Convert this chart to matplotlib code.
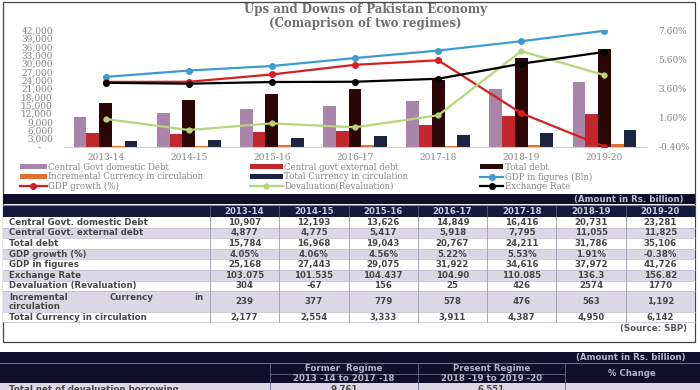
import numpy as np
import matplotlib
matplotlib.use('Agg')
import matplotlib.pyplot as plt
from matplotlib.patches import Rectangle

# data from the SBP table
years = ['2013-14', '2014-15', '2015-16', '2016-17', '2017-18', '2018-19', '2019-20']
domestic_debt = [10907, 12193, 13626, 14849, 16416, 20731, 23281]
external_debt = [4877, 4775, 5417, 5918, 7795, 11055, 11825]
total_debt = [15784, 16968, 19043, 20767, 24211, 31786, 35106]
gdp_growth = [4.05, 4.06, 4.56, 5.22, 5.53, 1.91, -0.38]
gdp_figures = [25168, 27443, 29075, 31922, 34616, 37972, 41726]
exchange_txt = ['103.075', '101.535', '104.437', '104.90', '110.085', '136.3', '156.82']
exchange_rate = [float(s) for s in exchange_txt]
devaluation = [304, -67, 156, 25, 426, 2574, 1770]
incr_currency = [239, 377, 779, 578, 476, 563, 1192]
total_currency = [2177, 2554, 3333, 3911, 4387, 4950, 6142]

regime_names = ['Former  Regime', 'Present Regime']
regime_years = ['2013 -14 to 2017 -18', '2018 -19 to 2019 -20']
net_borrowing = ['9,761', '6,551']

plt.rcParams['font.family'] = 'DejaVu Serif'
W, H = 700, 390
GRAY = '#858585'
NAVY = '#110e2c'
LAV = '#dcd7e6'

fig = plt.figure(figsize=(7, 3.9), dpi=100)
bg = fig.add_axes([0, 0, 1, 1])
bg.set_xlim(0, W)
bg.set_ylim(H, 0)
bg.axis('off')

# ---- chart ----
ax = fig.add_axes([64 / W, 1 - 147 / H, 582 / W, 117 / H])
x = np.arange(len(years))
bw = 0.153
bar_series = [('Central Govt domestic Debt', domestic_debt, '#a985a9'),
              ('Central govt external debt', external_debt, '#c1272d'),
              ('Total debt', total_debt, '#2a0606'),
              ('Incremental Currency in circulation', incr_currency, '#e2702c'),
              ('Total Currency in circulation', total_currency, '#1d2442')]
handles = {}
for k, (name, vals, c) in enumerate(bar_series):
    handles[name] = ax.bar(x + (k - 2) * bw, vals, bw, color=c, label=name)

ln, = ax.plot(x, gdp_figures, color='#3d9bd3', lw=1.6, marker='o', ms=4)
handles['GDP in figures (Bln)'] = ln
ax.set_xlim(-0.5, 6.5)
ax.set_ylim(0, 42000)
ticks = np.arange(0, 42001, 3000)
ax.set_yticks(ticks)
ax.set_yticklabels(['-    ' if t == 0 else f'{t:,}' for t in ticks])
ax.set_xticks(x)
ax.set_xticklabels(years)
ax.tick_params(length=0, labelsize=6.5, labelcolor=GRAY)
ax.tick_params(axis='y', pad=8)
ax.tick_params(axis='x', pad=4)
for s in ax.spines.values():
    s.set_visible(False)
ax.spines['bottom'].set_visible(True)
ax.spines['bottom'].set_color('#cfcfcf')

ax2 = ax.twinx()
ln, = ax2.plot(x, gdp_growth, color='#d41f1f', lw=1.6, marker='o', ms=4)
handles['GDP growth (%)'] = ln
ax2.set_ylim(-0.4, 7.6)
rt = [-0.4, 1.6, 3.6, 5.6, 7.6]
ax2.set_yticks(rt)
ax2.set_yticklabels([f'{t:.2f}%' for t in rt])
ax2.tick_params(length=0, labelsize=6.5, labelcolor=GRAY, pad=9)
for s in ax2.spines.values():
    s.set_visible(False)

ax3 = ax.twinx()
ln, = ax3.plot(x, devaluation, color='#b6d47c', lw=1.6, marker='o', ms=3.5)
handles['Devaluation(Revaluation)'] = ln
ax3.set_ylim(-635, 3280)
ax3.axis('off')

ax4 = ax.twinx()
ln, = ax4.plot(x, exchange_rate, color='black', lw=1.6, marker='o', ms=4)
handles['Exchange Rate'] = ln
ax4.set_ylim(-8.7, 195)
ax4.axis('off')

bg.text(365, 10, 'Ups and Downs of Pakistan Economy', ha='center', va='center',
        size=8.5, weight='bold', color='#6e6e6e')
bg.text(365, 23, '(Comaprison of two regimes)', ha='center', va='center',
        size=8.5, weight='bold', color='#6e6e6e')

legend_cols = [(20, 3.1, ['Central Govt domestic Debt', 'Incremental Currency in circulation', 'GDP growth (%)']),
               (250, 3.8, ['Central govt external debt', 'Total Currency in circulation', 'Devaluation(Revaluation)']),
               (480, 2.7, ['Total debt', 'GDP in figures (Bln)', 'Exchange Rate'])]
for x0, hl, names in legend_cols:
    fig.legend([handles[n] for n in names], names, loc='upper left',
               bbox_to_anchor=(x0 / W, 1 - 163 / H), frameon=False, borderpad=0,
               borderaxespad=0, handlelength=hl, handleheight=0.5, handletextpad=0.2,
               labelspacing=0.05, fontsize=6.2, labelcolor=GRAY)

bg.add_patch(Rectangle((3, 2), 692, 340, fill=False, edgecolor='#444444', lw=0.9))

# ---- table ----
tf = dict(family='DejaVu Sans', weight='bold', size=6.2)
bg.add_patch(Rectangle((3, 194), 692, 10, color=NAVY, lw=0))
bg.add_patch(Rectangle((3, 205), 692, 12, color='#17183d', lw=0))
bg.plot([3, 695], [204.5, 204.5], color='#7a7a9a', lw=0.8)
bg.text(683, 199.5, '(Amount in Rs. billion)', ha='right', va='center', color='#bdbdcf', **tf)

edges = [210 + (695 - 210) / 7 * j for j in range(8)]
for j, yr in enumerate(years):
    bg.text((edges[j] + edges[j + 1]) / 2, 211.5, yr, ha='center', va='center', color='#c9c8d8', **tf)

row_labels = ['Central Govt. domestic Debt', 'Central Govt. external debt', 'Total debt',
              'GDP growth (%)', 'GDP in figures', 'Exchange Rate', 'Devaluation (Revaluation)',
              'Incremental Currency in circulation', 'Total Currency in circulation']
row_cells = [[f'{v:,}' for v in domestic_debt],
             [f'{v:,}' for v in external_debt],
             [f'{v:,}' for v in total_debt],
             [f'{v:.2f}%' for v in gdp_growth],
             [f'{v:,}' for v in gdp_figures],
             exchange_txt,
             [str(v) for v in devaluation],
             [f'{v:,}' for v in incr_currency],
             [f'{v:,}' for v in total_currency]]
row_h = [10.6] * 7 + [21, 9.8]

y = 217
for i, (lab, cells, h) in enumerate(zip(row_labels, row_cells, row_h)):
    bg.add_patch(Rectangle((3, y), 692, h, color='white' if i % 2 == 0 else LAV, lw=0))
    tc = '#474747'
    if h > 15:
        bg.text(9, y + h * 0.28, 'Incremental', va='center', color=tc, **tf)
        bg.text(110, y + h * 0.28, 'Currency', va='center', color=tc, **tf)
        bg.text(194, y + h * 0.28, 'in', va='center', color=tc, **tf)
        bg.text(9, y + h * 0.74, 'circulation', va='center', color=tc, **tf)
    else:
        bg.text(9, y + h / 2, lab, va='center', color=tc, **tf)
    for j, c in enumerate(cells):
        bg.text((edges[j] + edges[j + 1]) / 2, y + h / 2, c, ha='center', va='center', color=tc, **tf)
    y += h
    bg.plot([3, 695], [y, y], color='#bdb8cb', lw=0.5)

for e in edges[:-1]:
    bg.plot([e, e], [205, 217], color='#5a5a80', lw=0.6)
    bg.plot([e, e], [217, y], color='#9d9aae', lw=0.6)

bg.text(687, 329, '(Source: SBP)', ha='right', va='center', color='#555555', **tf)

# ---- second table ----
bg.add_patch(Rectangle((0, 352), 700, 31, color=NAVY, lw=0))
bg.plot([0, 700], [363, 363], color='#6b6b8e', lw=0.8)
bg.text(686, 357.5, '(Amount in Rs. billion)', ha='right', va='center', color='#b9b9cc', **tf)
edges2 = [270, 418, 565, 700]
for e in edges2[:-1]:
    bg.plot([e, e], [363, 390], color='#6b6b8e', lw=0.6)
bg.plot([270, 565], [373.5, 373.5], color='#6b6b8e', lw=0.6)
for j in range(2):
    cx = (edges2[j] + edges2[j + 1]) / 2
    bg.text(cx, 368.5, regime_names[j], ha='center', va='center', color='#b4b4c8', **tf)
    bg.text(cx, 378.5, regime_years[j], ha='center', va='center', color='#b4b4c8', **tf)
bg.text(632, 373, '% Change', ha='center', va='center', color='#b4b4c8', **tf)
bg.add_patch(Rectangle((0, 383), 700, 10, color=LAV, lw=0))
bg.text(9, 389.5, 'Total net of devaluation borrowing', va='center', color='#474747', **tf)
for j in range(2):
    bg.text((edges2[j] + edges2[j + 1]) / 2, 389.5, net_borrowing[j], ha='center', va='center', color='#474747', **tf)

fig.savefig('out.png', dpi=100)
